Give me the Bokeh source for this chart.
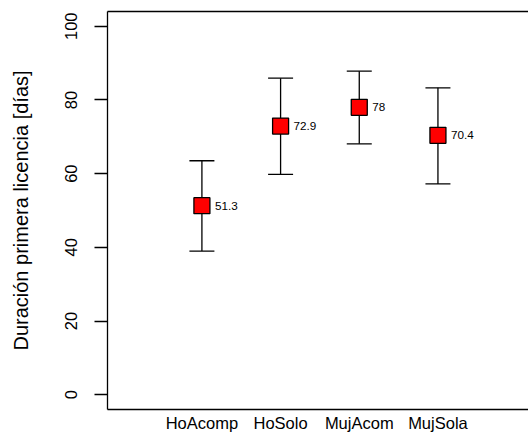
from bokeh.plotting import figure
from bokeh.models import (ColumnDataSource, Range1d, FixedTicker, LinearAxis,
                          Whisker, TeeHead)
from bokeh.core.properties import value
from bokeh.embed import file_html
from bokeh.resources import INLINE

groups = ["HoAcomp", "HoSolo", "MujAcom", "MujSola"]
means = [51.3, 72.9, 78.0, 70.4]
lower = [39.0, 59.8, 68.1, 57.2]
upper = [63.5, 85.9, 87.8, 83.3]
y_ticks = [0, 20, 40, 60, 80, 100]

xpos = list(range(1, len(groups) + 1))
labels = [("%g" % m) for m in means]
src = ColumnDataSource(dict(x=xpos, mean=means, lower=lower, upper=upper,
                            lab=labels))

FONT = "Liberation Sans"

p = figure(width=528, height=434, output_backend="svg", toolbar_location=None,
           x_range=Range1d(-0.2, 5.151), y_range=Range1d(-4, 104),
           min_border_left=107, min_border_right=0, min_border_top=11,
           min_border_bottom=25, background_fill_color="white",
           border_fill_color="white")
p.outline_line_color = None
p.xgrid.visible = False
p.ygrid.visible = False

# y axis
ya = p.yaxis[0]
ya.ticker = FixedTicker(ticks=y_ticks)
ya.minor_tick_line_color = None
ya.major_tick_out = 13
ya.major_tick_in = 0
ya.major_tick_line_width = 1.3
ya.axis_line_width = 1.3
ya.axis_line_color = "black"
ya.major_tick_line_color = "black"
ya.major_label_orientation = "vertical"
ya.major_label_text_font = FONT
ya.major_label_text_font_size = "16.5px"
ya.major_label_text_color = "black"
ya.major_label_standoff = 17
ya.axis_label = "Duración primera licencia [días]"
ya.axis_label_text_font = FONT
ya.axis_label_text_font_size = "20px"
ya.axis_label_text_font_style = "normal"
ya.axis_label_text_color = "black"
ya.axis_label_standoff = 31

# x axis
xa = p.xaxis[0]
xa.ticker = FixedTicker(ticks=xpos)
xa.major_label_overrides = {x: g for x, g in zip(xpos, groups)}
xa.minor_tick_line_color = None
xa.major_tick_out = 0
xa.major_tick_in = 0
xa.axis_line_width = 1.3
xa.axis_line_color = "black"
xa.major_label_text_font = FONT
xa.major_label_text_font_size = "16.5px"
xa.major_label_text_color = "black"
xa.major_label_standoff = 4

# top border line
top = LinearAxis(ticker=FixedTicker(ticks=[]), axis_line_width=1.3,
                 axis_line_color="black", major_tick_line_color=None,
                 minor_tick_line_color=None, major_label_text_font_size="0px")
p.add_layout(top, "above")

p.scatter(x="x", y="mean", source=src, marker="square", size=16,
          fill_color="red", line_color="black", line_width=1.3)

w = Whisker(base="x", upper="upper", lower="lower", source=src,
            line_color="black", line_width=1.3,
            upper_head=TeeHead(size=25, line_color="black", line_width=1.3),
            lower_head=TeeHead(size=25, line_color="black", line_width=1.3))
p.add_layout(w)

p.text(x="x", y="mean", text="lab", source=src, x_offset=13,
       text_baseline="middle", text_align="left",
       text_font=value(FONT), text_font_size="11.7px", text_color="black")

open("out.html", "w").write(file_html(p, INLINE))
